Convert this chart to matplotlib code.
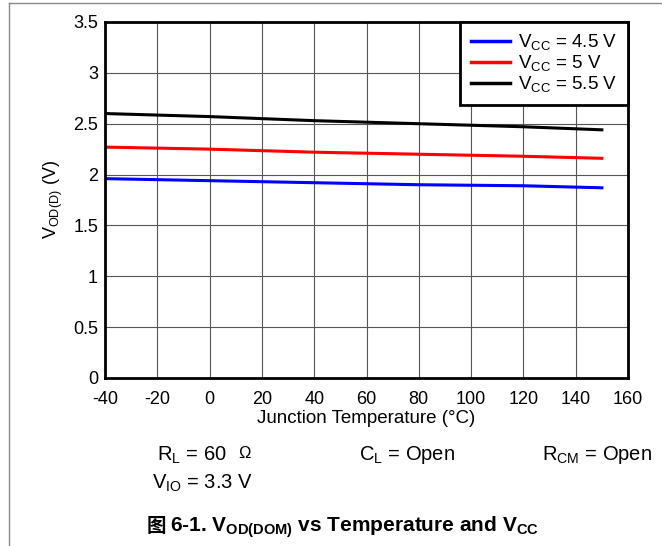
import matplotlib
matplotlib.use('Agg')
import matplotlib.pyplot as plt
from matplotlib.lines import Line2D

plt.rcParams['font.family'] = ['Liberation Sans', 'Noto Sans CJK SC']
plt.rcParams['mathtext.fontset'] = 'custom'
plt.rcParams['mathtext.rm'] = 'Liberation Sans'
plt.rcParams['mathtext.it'] = 'Liberation Sans'
plt.rcParams['mathtext.bf'] = 'Liberation Sans:bold'
plt.rcParams['axes.unicode_minus'] = False

# data
temp = [-40, 0, 40, 80, 120, 150]
vod_45 = [1.96, 1.94, 1.92, 1.90, 1.89, 1.87]
vod_50 = [2.27, 2.25, 2.22, 2.20, 2.18, 2.16]
vod_55 = [2.60, 2.57, 2.53, 2.50, 2.47, 2.44]
series_labels = [r'$\mathregular{V_{CC}}$ = 4.5 V', r'$\mathregular{V_{CC}}$ = 5 V',
                 r'$\mathregular{V_{CC}}$ = 5.5 V']
series_colors = ['#0000ff', '#ff0000', '#000000']

W, H = 662, 546
fig = plt.figure(figsize=(W / 100, H / 100), dpi=100)
ax = fig.add_axes([105 / W, 1 - 378 / H, (628 - 105) / W, (378 - 22) / H])

for y, lab, c in zip([vod_45, vod_50, vod_55], series_labels, series_colors):
    ax.plot(temp, y, color=c, lw=2.2, label=lab)

ax.set_xlim(-40, 160)
ax.set_ylim(0, 3.5)
ax.set_xticks(range(-40, 161, 20))
ax.set_yticks([0, 0.5, 1, 1.5, 2, 2.5, 3, 3.5])
ax.set_yticklabels(['0', '0.5', '1', '1.5', '2', '2.5', '3', '3.5'])
ax.tick_params(length=0, labelsize=13)
ax.tick_params(axis='x', pad=9)
ax.tick_params(axis='y', pad=5)
ax.grid(True, color='#555555', lw=0.8)
ax.set_axisbelow(True)
for s in ax.spines.values():
    s.set_linewidth(2)
ax.set_xlabel('Junction Temperature (°C)', fontsize=13.5, labelpad=2)
ax.set_ylabel(r'$\mathregular{V_{OD(D)}}$ (V)', fontsize=13, labelpad=6)

leg = ax.legend(loc='upper right', fontsize=13.5, frameon=True, fancybox=False,
                borderaxespad=0, handlelength=2.1, labelspacing=0.05,
                borderpad=0.55, handletextpad=0.45, framealpha=1)
leg.get_frame().set_edgecolor('black')
leg.get_frame().set_linewidth(2)
for h in leg.get_lines():
    h.set_linewidth(2.5)

# test conditions
fig.text(157 / W, 1 - 455 / H, r'$\mathregular{R_L}$ = 60', fontsize=14.5, va='center')
fig.text(238 / W, 1 - 454 / H, 'Ω', fontsize=12, va='center')
fig.text(359 / W, 1 - 455 / H, r'$\mathregular{C_L}$ = Open', fontsize=14.5, va='center')
fig.text(542 / W, 1 - 455 / H, r'$\mathregular{R_{CM}}$ = Open', fontsize=14.5, va='center')
fig.text(152 / W, 1 - 483 / H, r'$\mathregular{V_{IO}}$ = 3.3 V', fontsize=14.5, va='center')

# caption
fig.text(147 / W, 1 - 527 / H, '图', fontsize=14, fontweight='bold', va='center',
         family='Noto Sans CJK SC')
fig.text(170 / W, 1 - 527 / H,
         r'6-1. $\mathbf{V_{OD(DOM)}}$ vs Temperature and $\mathbf{V_{CC}}$',
         fontsize=15, fontweight='bold', va='center')

# outer frame
fig.add_artist(Line2D([8.5 / W, 8.5 / W], [0, 1 - 3 / H], color='#888888', lw=1))
fig.add_artist(Line2D([8.5 / W, 1], [1 - 3 / H, 1 - 3 / H], color='#888888', lw=1))

fig.savefig('out.png', dpi=100)
